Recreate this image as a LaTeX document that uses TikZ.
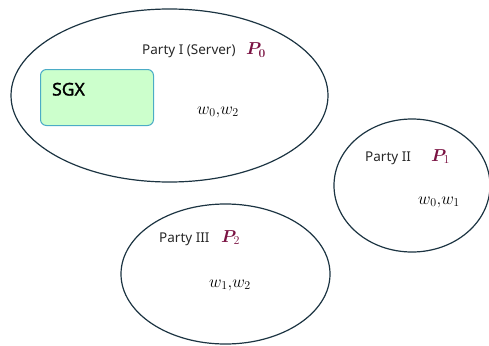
\documentclass[tikz,border=0pt]{standalone}
\usepackage{amsmath,bm}
\usepackage{fontspec}
\setmainfont{Noto Sans}
\newfontfamily\sgxfont[AutoFakeBold=1.6]{Noto Sans}
\definecolor{rim}{RGB}{28,52,66}
\definecolor{pcol}{RGB}{122,18,66}
\definecolor{sgxfill}{RGB}{204,255,204}
\definecolor{sgxrim}{RGB}{75,172,198}
\definecolor{txt}{RGB}{40,40,40}
\begin{document}
\begin{tikzpicture}[x=1pt,y=-1pt,
  lab/.style={text=txt, font=\fontsize{13.5}{15}\selectfont, inner sep=0pt, anchor=base west},
  wlab/.style={font=\fontsize{17}{19}\selectfont, inner sep=0pt, anchor=base west},
  pid/.style={text=pcol, font=\fontsize{17}{19}\selectfont, inner sep=0pt, anchor=base west}]
\useasboundingbox (0,0) rectangle (489,345);
% party ellipses
\draw[draw=rim, line width=1.2pt] (169.5,95.5) ellipse [x radius=158.5, y radius=86.5];
\draw[draw=rim, line width=1.2pt] (412,185.5) ellipse [x radius=78, y radius=66.5];
\draw[draw=rim, line width=1.2pt] (225.5,274) ellipse [x radius=104.5, y radius=70];
% enclave
\node[draw=sgxrim, fill=sgxfill, line width=1pt, rounded corners=6pt,
      minimum width=113pt, minimum height=56pt, anchor=north west] (sgx) at (40,69) {};
\node[anchor=base west, inner sep=0pt, font=\fontsize{17.5}{19}\sgxfont\bfseries] (sgxl) at (52,95.5) {SGX};
% Party I
\node[lab] (p0l) at (142,55) {Party I (Server)};
\node[pid] (p0) at (246,55) {$\bm{P}_{\bm{0}}$};
\node[wlab] (w0) at (197,114) {$w_0{,}w_2$};
% Party II
\node[lab] (p1l) at (365,161) {Party II};
\node[pid] (p1) at (431,161) {$\bm{P}_1$};
\node[wlab] (w1) at (418,204) {$w_0{,}w_1$};
% Party III
\node[lab] (p2l) at (159,242) {Party III};
\node[pid] (p2) at (221,242) {$\bm{P}_2$};
\node[wlab] (w2) at (209,287) {$w_1{,}w_2$};
\end{tikzpicture}
\end{document}
